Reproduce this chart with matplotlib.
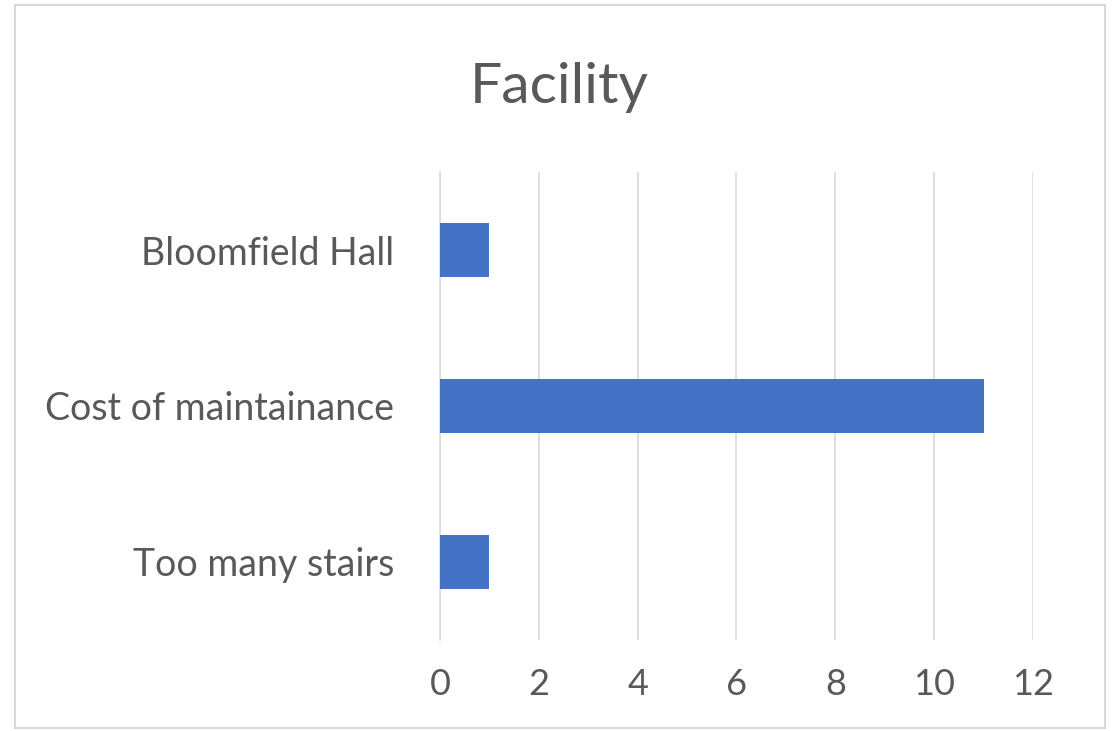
import matplotlib
matplotlib.use("Agg")
from matplotlib import pyplot as plt
from matplotlib.patches import Rectangle

# data
categories = ['Too many stairs', 'Cost of maintainance', 'Bloomfield Hall']
counts = [1, 11, 1]
xticks = [0, 2, 4, 6, 8, 10, 12]

plt.rcParams['font.family'] = ['Lato', 'DejaVu Sans']
text_col = '#595959'

fig = plt.figure(figsize=(11.19, 7.31), dpi=100)
ax = fig.add_axes([0.3932, 0.1245, 0.5299, 0.6402])

ax.barh(categories, counts, height=0.345, color='#4472C4', zorder=3)

ax.set_xlim(0, 12)
ax.set_ylim(-0.5, 2.5)
ax.set_xticks(xticks)
ax.grid(axis='x', color='#D9D9D9', linewidth=1.2, zorder=0)
for side in ['top', 'right', 'bottom']:
    ax.spines[side].set_visible(False)
ax.spines['left'].set_color('#D9D9D9')
ax.spines['left'].set_linewidth(1.2)
ax.tick_params(axis='x', length=0, pad=20, labelsize=26, labelcolor=text_col)
ax.tick_params(axis='y', length=0, pad=33, labelsize=27, labelcolor=text_col)

fig.text(0.5, 0.88, 'Facility', ha='center', va='center', fontsize=41, color=text_col)

# light grey frame around the chart
fig.patches.append(Rectangle((15 / 1119, 1 - 728 / 731), 1090 / 1119, 723 / 731,
                             transform=fig.transFigure, fill=False,
                             edgecolor='#D9D9D9', linewidth=1.5))

fig.savefig('out.png', dpi=100)
